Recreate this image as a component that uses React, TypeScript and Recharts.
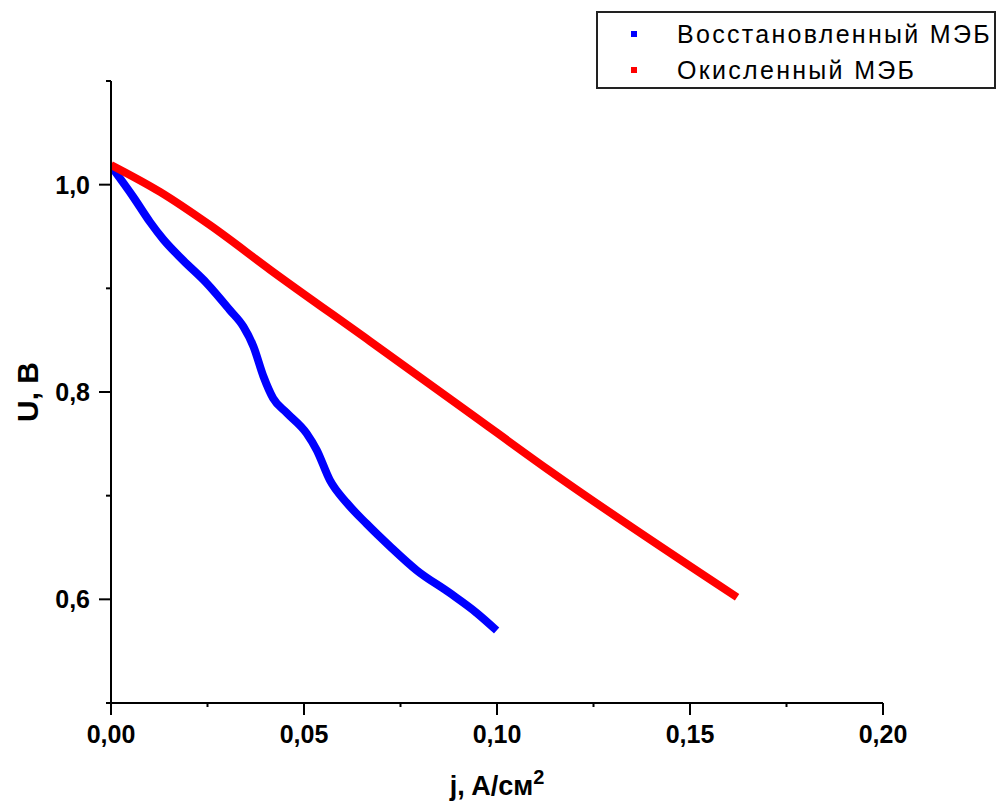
import { LineChart, Line, XAxis, YAxis } from 'recharts'

// восстановленный МЭБ (blue)
const reducedJ = [0.0002, 0.0058, 0.0101, 0.0136, 0.0187, 0.0248, 0.0308, 0.0343, 0.0369, 0.0395, 0.042, 0.0455, 0.0507, 0.0533, 0.0567, 0.0611, 0.0662, 0.0723, 0.0792, 0.0878, 0.0947, 0.0999]
const reducedU = [1.017, 0.988, 0.964, 0.947, 0.927, 0.905, 0.879, 0.863, 0.844, 0.815, 0.794, 0.78, 0.76, 0.744, 0.715, 0.693, 0.673, 0.651, 0.628, 0.606, 0.587, 0.57]

// окисленный МЭБ (red)
const oxidizedJ = [0.0, 0.0127, 0.0256, 0.0412, 0.0671, 0.093, 0.1129, 0.1622]
const oxidizedU = [1.019, 0.993, 0.961, 0.918, 0.849, 0.7795, 0.726, 0.602]

const xTicks = [0, 0.025, 0.05, 0.075, 0.1, 0.125, 0.15, 0.175, 0.2]
const yTicks = [0.5, 0.6, 0.7, 0.8, 0.9, 1.0, 1.1]

const seriesNames = ['Восстановленный МЭБ', 'Окисленный МЭБ']
const seriesColors = ['#0000ff', '#ff0000']

const reduced = reducedJ.map((j, i) => ({ j, u: reducedU[i] }))
const oxidized = oxidizedJ.map((j, i) => ({ j, u: oxidizedU[i] }))

const font = 'Arial, "Liberation Sans", sans-serif'

function XTick({ x, y, payload }: any) {
  const v = payload.value
  const major = Math.round(v * 1000) % 50 === 0
  return (
    <g>
      <line x1={x} x2={x} y1={y} y2={y + (major ? 12 : 4)} stroke="#000" strokeWidth={2} />
      {major && (
        <text x={x} y={y + 40} textAnchor="middle" fontFamily={font} fontWeight="bold" fontSize={25} fill="#000">
          {v.toFixed(2).replace('.', ',')}
        </text>
      )}
    </g>
  )
}

function YTick({ x, y, payload }: any) {
  const v = payload.value
  const major = Math.round(v * 10) % 2 === 0
  return (
    <g>
      <line x1={x} x2={x - (major ? 12 : 5)} y1={y} y2={y} stroke="#000" strokeWidth={2} />
      {major && (
        <text x={x - 21} y={y + 9} textAnchor="end" fontFamily={font} fontWeight="bold" fontSize={25} fill="#000">
          {v.toFixed(1).replace('.', ',')}
        </text>
      )}
    </g>
  )
}

function XTitle({ viewBox }: any) {
  const { x, y, width } = viewBox
  return (
    <text x={x + width / 2} y={y + 92} textAnchor="middle" fontFamily={font} fontWeight="bold" fontSize={27} fill="#000">
      j, A/см<tspan dy={-11} fontSize={20}>2</tspan>
    </text>
  )
}

function YTitle({ viewBox }: any) {
  const { y, height } = viewBox
  const cy = y + height / 2
  return (
    <text x={38} y={cy} transform={`rotate(-90 38 ${cy})`} textAnchor="middle" fontFamily={font} fontWeight="bold" fontSize={30} fill="#000">
      U, B
    </text>
  )
}

function LegendBox() {
  return (
    <div
      style={{
        position: 'absolute',
        left: 596,
        top: 11,
        width: 400,
        height: 78,
        border: '2px solid #222',
        boxSizing: 'border-box',
        background: '#fff',
        fontFamily: font,
        fontSize: 25,
        letterSpacing: 2.3,
        color: '#000',
        paddingTop: 3,
      }}
    >
      {seriesNames.map((name, i) => (
        <div key={name} style={{ display: 'flex', alignItems: 'center', height: 36 }}>
          <span style={{ width: 6, height: 6, background: seriesColors[i], marginLeft: 33, marginRight: 40 }} />
          <span>{name}</span>
        </div>
      ))}
    </div>
  )
}

export default function App() {
  return (
    <div style={{ position: 'absolute', left: 0, top: 0, width: 998, height: 803, background: '#fff' }}>
      <LineChart width={998} height={803} margin={{ top: 81, right: 115, bottom: 0, left: 0 }}>
        <XAxis
          dataKey="j"
          type="number"
          domain={[0, 0.2]}
          ticks={xTicks}
          height={100}
          tickSize={0}
          tickMargin={0}
          tickLine={false}
          tick={<XTick />}
          axisLine={{ stroke: '#000', strokeWidth: 2 }}
          allowDataOverflow
          label={<XTitle />}
        />
        <YAxis
          dataKey="u"
          type="number"
          domain={[0.5, 1.1]}
          ticks={yTicks}
          width={111}
          tickSize={0}
          tickMargin={0}
          tickLine={false}
          tick={<YTick />}
          axisLine={{ stroke: '#000', strokeWidth: 2 }}
          allowDataOverflow
          label={<YTitle />}
        />
        <Line
          data={reduced}
          dataKey="u"
          name={seriesNames[0]}
          type="monotone"
          stroke={seriesColors[0]}
          strokeWidth={8}
          dot={false}
          isAnimationActive={false}
        />
        <Line
          data={oxidized}
          dataKey="u"
          name={seriesNames[1]}
          type="monotone"
          stroke={seriesColors[1]}
          strokeWidth={8}
          dot={false}
          isAnimationActive={false}
        />
      </LineChart>
      <LegendBox />
    </div>
  )
}
